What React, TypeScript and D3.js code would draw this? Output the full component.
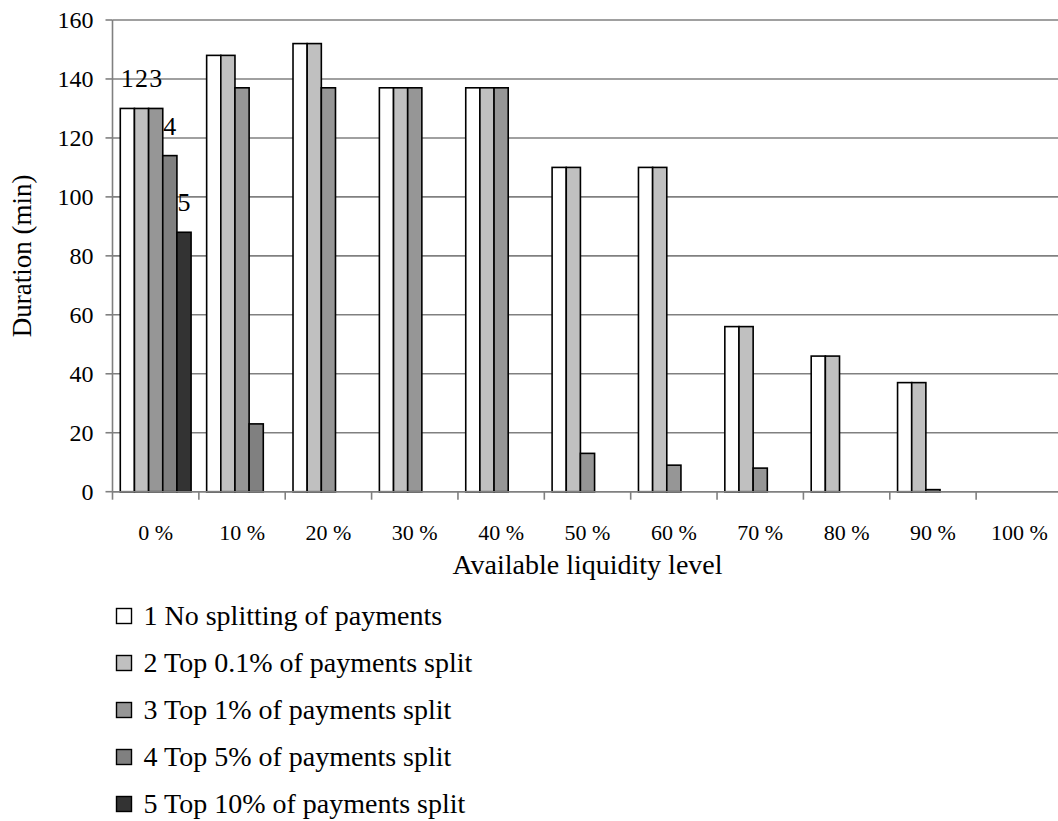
import React from "react";
import * as d3 from "d3";

const categories = ["0 %", "10 %", "20 %", "30 %", "40 %", "50 %", "60 %", "70 %", "80 %", "90 %", "100 %"];
const seriesNames = [
  "1 No splitting of payments",
  "2 Top 0.1% of payments split",
  "3 Top 1% of payments split",
  "4 Top 5% of payments split",
  "5 Top 10% of payments split",
];
const seriesLabels = ["1", "2", "3", "4", "5"];
const s1 = [130, 148, 152, 137, 137, 110, 110, 56, 46, 37, 0];
const s2 = [130, 148, 152, 137, 137, 110, 110, 56, 46, 37, 0];
const s3 = [130, 137, 137, 137, 137, 13, 9, 8, 0, 0.7, 0];
const s4 = [114, 23, 0, 0, 0, 0, 0, 0, 0, 0, 0];
const s5 = [88, 0, 0, 0, 0, 0, 0, 0, 0, 0, 0];
const seriesValues = [s1, s2, s3, s4, s5];
const fills = ["#FFFFFF", "#C0C0C0", "#969696", "#808080", "#333333"];
const yTicks = [0, 20, 40, 60, 80, 100, 120, 140, 160];

const W = 1058;
const H = 821;
const left = 112.5;
const right = 1062.5;
const top = 20;
const bottom = 491.7;
const FONT = "'Liberation Serif', 'Times New Roman', Tinos, Times, serif";
const GRID = "#808080";

export default function App() {
  const x = d3.scaleBand<string>().domain(categories).range([left, right]).padding(0);
  const y = d3.scaleLinear().domain([0, 160]).range([bottom, top]);
  const inner = d3
    .scaleBand<number>()
    .domain(d3.range(seriesValues.length))
    .range([0, x.bandwidth()])
    .paddingOuter(0.55)
    .paddingInner(0);
  const ts = { fontFamily: FONT };

  return (
    <svg width={W} height={H} style={{ display: "block", position: "absolute", left: 0, top: 0, fontFamily: FONT }}>
      <rect x={0} y={0} width={W} height={H} fill="#fff" />
      {yTicks.map((t) => (
        <line key={"g" + t} x1={left} x2={right} y1={y(t)} y2={y(t)} stroke={GRID} strokeWidth={1.6} />
      ))}
      {yTicks.map((t) => (
        <g key={"yt" + t}>
          <line x1={left - 7} x2={left} y1={y(t)} y2={y(t)} stroke={GRID} strokeWidth={1.6} />
          <text x={left - 19} y={y(t)} dy="0.34em" textAnchor="end" fontSize={24} style={ts}>
            {t}
          </text>
        </g>
      ))}
      {seriesValues.map((vals, si) =>
        vals.map((v, ci) =>
          v > 0 ? (
            <rect
              key={`b${si}-${ci}`}
              x={(x(categories[ci]) as number) + (inner(si) as number)}
              y={y(v)}
              width={inner.bandwidth()}
              height={bottom - y(v)}
              fill={fills[si]}
              stroke="#000"
              strokeWidth={1.6}
            />
          ) : null
        )
      )}
      <line x1={left} x2={left} y1={top} y2={bottom} stroke={GRID} strokeWidth={1.6} />
      <line x1={left} x2={right} y1={bottom} y2={bottom} stroke={GRID} strokeWidth={1.6} />
      {categories.map((c) => (
        <line
          key={"xt" + c}
          x1={x(c) as number}
          x2={x(c) as number}
          y1={bottom}
          y2={bottom + 8}
          stroke={GRID}
          strokeWidth={1.6}
        />
      ))}
      {categories.map((c) => (
        <text key={"xl" + c} x={(x(c) as number) + x.bandwidth() / 2} y={540} textAnchor="middle" fontSize={22} style={ts}>
          {c}
        </text>
      ))}
      {seriesValues.map((vals, si) => (
        <text
          key={"dl" + si}
          x={(x(categories[0]) as number) + (inner(si) as number) + inner.bandwidth() / 2}
          y={y(vals[0]) - 21}
          textAnchor="middle"
          fontSize={26}
          style={ts}
        >
          {seriesLabels[si]}
        </text>
      ))}
      <text x={(left + right) / 2} y={574} textAnchor="middle" fontSize={28} style={ts}>
        Available liquidity level
      </text>
      <text transform={`translate(31, ${(top + bottom) / 2}) rotate(-90)`} textAnchor="middle" fontSize={27} style={ts}>
        Duration (min)
      </text>
      {seriesNames.map((n, i) => (
        <g key={"lg" + i} transform={`translate(116.5, ${616 + i * 47})`}>
          <rect x={0} y={-7.5} width={15} height={15} fill={fills[i]} stroke="#000" strokeWidth={1.4} />
          <text x={27} y={9} fontSize={28} style={ts}>
            {n}
          </text>
        </g>
      ))}
    </svg>
  );
}
